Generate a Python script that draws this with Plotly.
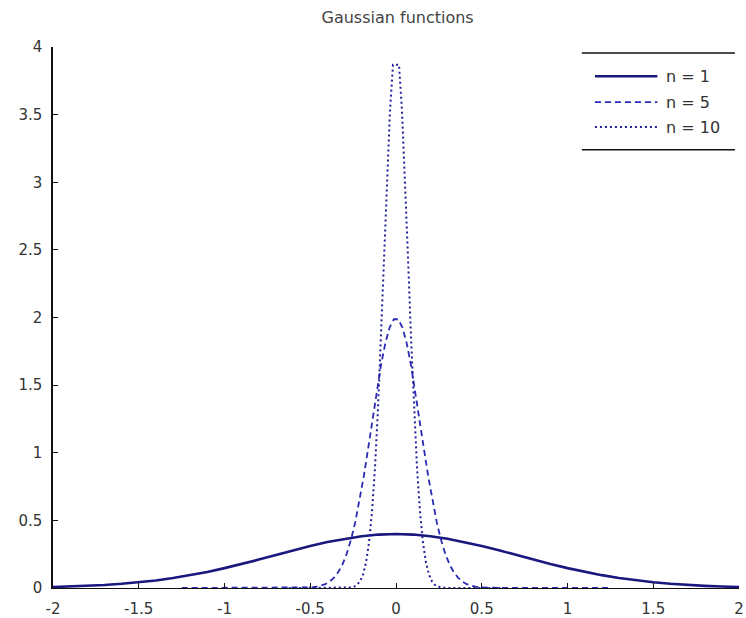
import plotly.graph_objects as go

# Gaussian curves for n = 1, 5, 10 (sampled values)
n1_x = [-2.0, -1.9, -1.8, -1.7, -1.6, -1.5, -1.4, -1.3, -1.2, -1.1, -1.0,
        -0.9, -0.8, -0.7, -0.6, -0.5, -0.4, -0.3, -0.2, -0.1, 0.0,
        0.1, 0.2, 0.3, 0.4, 0.5, 0.6, 0.7, 0.8, 0.9, 1.0,
        1.1, 1.2, 1.3, 1.4, 1.5, 1.6, 1.7, 1.8, 1.9, 2.0]
n1_y = [0.007, 0.011, 0.016, 0.022, 0.031, 0.042, 0.056, 0.074, 0.095, 0.119, 0.147,
        0.177, 0.210, 0.244, 0.279, 0.311, 0.340, 0.364, 0.383, 0.395, 0.399,
        0.395, 0.383, 0.364, 0.340, 0.311, 0.279, 0.244, 0.210, 0.177, 0.147,
        0.119, 0.095, 0.074, 0.056, 0.042, 0.031, 0.022, 0.016, 0.011, 0.007]

n5_x = [-1.25, -0.6, -0.5125, -0.4875, -0.4625, -0.4375, -0.4125, -0.3875, -0.3625,
        -0.3375, -0.3125, -0.2875, -0.2625, -0.2375, -0.2125, -0.1875, -0.1625,
        -0.1375, -0.1125, -0.0875, -0.0625, -0.0375, -0.0125,
        0.0125, 0.0375, 0.0625, 0.0875, 0.1125, 0.1375, 0.1625, 0.1875, 0.2125,
        0.2375, 0.2625, 0.2875, 0.3125, 0.3375, 0.3625, 0.3875, 0.4125, 0.4375,
        0.4625, 0.4875, 0.5125, 0.6, 1.25]
n5_y = [0.0, 0.0, 0.003, 0.005, 0.010, 0.017, 0.028, 0.047, 0.075,
        0.116, 0.173, 0.253, 0.356, 0.487, 0.645, 0.828, 1.031,
        1.244, 1.454, 1.648, 1.809, 1.926, 1.987,
        1.987, 1.926, 1.809, 1.648, 1.454, 1.244, 1.031, 0.828, 0.645,
        0.487, 0.356, 0.253, 0.173, 0.116, 0.075, 0.047, 0.028, 0.017,
        0.010, 0.005, 0.003, 0.0, 0.0]

n10_x = [-0.625, -0.35, -0.315, -0.28, -0.2625, -0.245, -0.2275, -0.21, -0.1925,
         -0.175, -0.1575, -0.14, -0.1225, -0.105, -0.0875, -0.07, -0.0525,
         -0.035, -0.0175, 0.0175, 0.035, 0.0525, 0.07, 0.0875, 0.105, 0.1225,
         0.14, 0.1575, 0.175, 0.1925, 0.21, 0.2275, 0.245, 0.2625, 0.28,
         0.315, 0.35, 0.625]
n10_y = [0.0, 0.0, 0.0, 0.002, 0.004, 0.010, 0.023, 0.049, 0.098,
         0.187, 0.334, 0.562, 0.890, 1.325, 1.855, 2.444, 3.028,
         3.529, 3.869, 3.869, 3.529, 3.028, 2.444, 1.855, 1.325, 0.890,
         0.562, 0.334, 0.187, 0.098, 0.049, 0.023, 0.010, 0.004, 0.002,
         0.0, 0.0, 0.0]

series_names = ["n = 1", "n = 5", "n = 10"]
x_ticks = [-2, -1.5, -1, -0.5, 0, 0.5, 1, 1.5, 2]
x_tick_text = ["-2", "-1.5", "-1", "-0.5", "0", "0.5", "1", "1.5", "2"]
y_ticks = [0, 0.5, 1, 1.5, 2, 2.5, 3, 3.5, 4]
y_tick_text = ["0", "0.5", "1", "1.5", "2", "2.5", "3", "3.5", "4"]

FONT = "DejaVu Sans"
styles = [
    dict(color="#18187e", width=2.6, dash="solid"),
    dict(color="#2a2ab4", width=1.8, dash="6px,4px"),
    dict(color="#20209a", width=2.0, dash="2px,3px"),
]

fig = go.Figure()
for xs, ys, name, st in zip([n1_x, n5_x, n10_x], [n1_y, n5_y, n10_y], series_names, styles):
    fig.add_trace(go.Scatter(x=xs, y=ys, mode="lines", name=name,
                             line=st, showlegend=False, hoverinfo="skip"))

# Legend drawn as a framed box with sample lines and labels
leg_x0, leg_x1 = 0.771, 0.994
leg_top, leg_bot = 0.989, 0.810
shapes = [
    dict(type="line", xref="paper", yref="paper", x0=leg_x0, x1=leg_x1,
         y0=leg_top, y1=leg_top, line=dict(color="#111111", width=1.5)),
    dict(type="line", xref="paper", yref="paper", x0=leg_x0, x1=leg_x1,
         y0=leg_bot, y1=leg_bot, line=dict(color="#111111", width=1.5)),
]
annotations = []
entry_y = [0.946, 0.898, 0.852]
for name, st, ey in zip(series_names, styles, entry_y):
    shapes.append(dict(type="line", xref="paper", yref="paper", x0=0.790, x1=0.881,
                       y0=ey, y1=ey, line=st))
    annotations.append(dict(xref="paper", yref="paper", x=0.891, y=ey, text=name,
                            showarrow=False, xanchor="left", yanchor="middle",
                            font=dict(family=FONT, size=16, color="#333333")))

fig.update_layout(
    width=746, height=618,
    margin=dict(l=53, r=7, t=47, b=30),
    paper_bgcolor="white", plot_bgcolor="white",
    title=dict(text="Gaussian functions", x=0.533, xanchor="center", y=0.972, yanchor="middle",
               font=dict(family=FONT, size=16, color="#444444")),
    font=dict(family=FONT, size=15, color="#333333"),
    shapes=shapes, annotations=annotations,
    xaxis=dict(range=[-2, 2], tickvals=x_ticks, ticktext=x_tick_text,
               showgrid=False, zeroline=False, showline=True, linecolor="#111111",
               linewidth=1, ticks="inside", ticklen=5, tickcolor="#111111",
               ticklabelstandoff=7, ticklabeloverflow="allow", automargin=False),
    yaxis=dict(range=[0, 4], tickvals=y_ticks, ticktext=y_tick_text,
               showgrid=False, zeroline=False, showline=True, linecolor="#111111",
               linewidth=1.5, ticks="inside", ticklen=5, tickcolor="#111111",
               ticklabelstandoff=6, automargin=False),
)

fig.write_html("out.html")
